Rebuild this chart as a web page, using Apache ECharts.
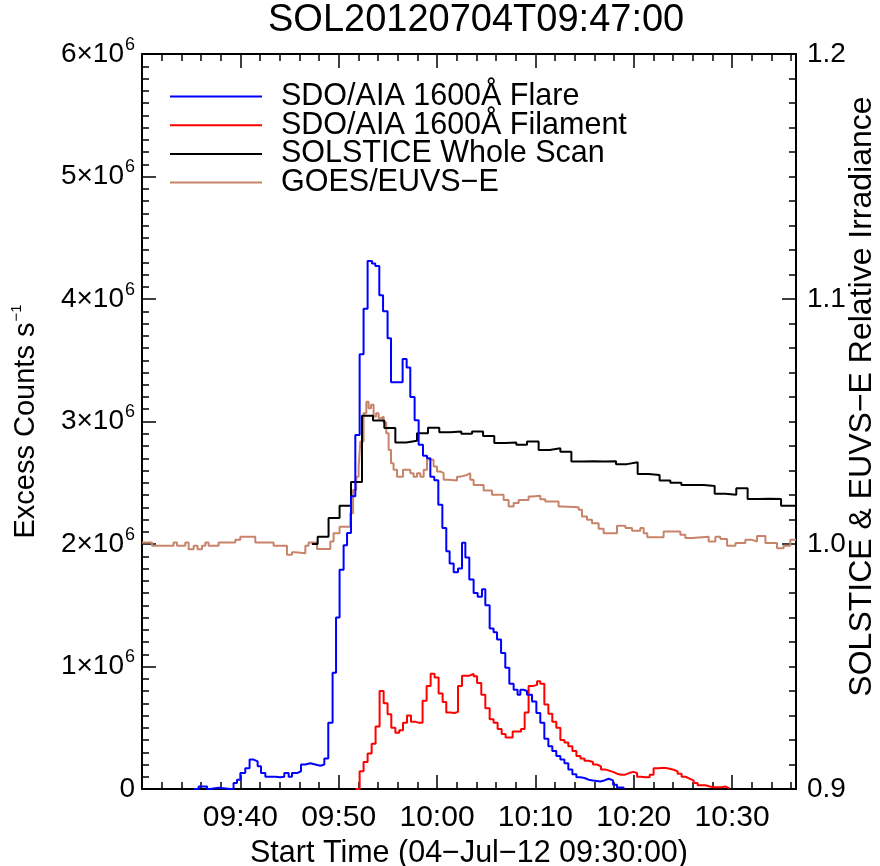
<!DOCTYPE html>
<html><head><meta charset="utf-8">
<script src="https://cdn.jsdelivr.net/npm/echarts@6/dist/echarts.min.js"></script>
<style>html,body{margin:0;padding:0;background:#fff;overflow:hidden;width:880px;height:866px}#c{width:880px;height:866px;position:absolute;left:0;top:0}</style>
</head><body><div id="c"></div>
<script>
// ---- text ----
const titleText = 'SOL20120704T09:47:00';
const xAxisName = 'Start Time (04\u2212Jul\u221212 09:30:00)';
const leftAxisName = 'Excess Counts s';
const rightAxisName = 'SOLSTICE & EUVS\u2212E Relative Irradiance';
const seriesNames = ['SDO/AIA 1600\u00c5 Flare', 'SDO/AIA 1600\u00c5 Filament', 'SOLSTICE Whole Scan', 'GOES/EUVS\u2212E'];
const startMinuteOfDay = 570; // 09:30
// ---- x range (minutes after 09:30) ----
const xMin = 0, xMax = 66.5;

// ---- SDO/AIA 1600 Flare (minutes after 09:30, units of 1e6 counts/s) ----
const flareT = [5.25,5.76,6.61,6.95,7.79,8.98,9.31,9.66,10.00,10.50,10.94,11.35,11.76,12.10,12.54,13.05,13.56,14.06,14.47,14.91,15.25,15.76,16.17,16.61,17.11,17.62,18.13,18.54,18.94,19.38,19.73,20.09,20.50,20.85,21.25,21.69,22.13,22.53,22.94,23.39,23.72,24.13,24.51,24.97,25.32,26.50,26.91,27.28,27.72,28.13,28.57,28.98,29.32,29.72,30.13,30.54,30.94,31.28,31.69,32.13,32.54,32.88,33.28,33.72,34.13,34.57,34.91,35.35,35.75,36.10,36.51,36.94,37.35,37.79,38.19,38.47,38.80,39.15,39.66,40.10,40.50,40.91,41.32,41.72,42.13,42.54,42.95,43.35,43.76,44.17,44.58,44.99,45.41,45.86,46.60,47.01,47.45,47.90,48.30,48.97];
const flareV = [0,0.02,0,0.01,0,0,0.05,0.076,0.13,0.17,0.24,0.225,0.185,0.13,0.10,0.10,0.095,0.10,0.13,0.10,0.13,0.145,0.20,0.21,0.20,0.19,0.20,0.25,0.54,0.95,1.40,1.79,1.99,2.09,2.39,2.89,3.55,3.92,4.31,4.29,4.27,4.03,3.90,3.68,3.32,3.51,3.44,3.20,3.01,2.81,2.72,2.70,2.55,2.52,2.32,2.13,1.94,1.84,1.77,1.80,2.01,1.89,1.71,1.60,1.57,1.63,1.50,1.31,1.28,1.22,1.11,0.99,0.86,0.81,0.77,0.81,0.80,0.77,0.715,0.62,0.54,0.41,0.35,0.31,0.27,0.24,0.21,0.16,0.12,0.095,0.09,0.076,0.07,0.062,0.07,0.084,0.07,0.035,0.013,0];

// ---- SDO/AIA 1600 Filament ----
const filT = [21.69,22.13,22.53,22.94,23.35,23.75,24.16,24.57,24.97,25.35,25.76,26.16,26.54,26.95,27.35,27.76,28.17,28.53,28.94,29.35,29.75,30.16,30.57,30.94,31.35,31.76,32.13,32.54,32.95,33.31,33.72,34.07,34.50,34.91,35.35,35.75,36.16,36.57,36.97,37.38,37.69,38.11,38.54,38.91,39.31,39.72,40.17,40.50,40.91,41.32,41.72,42.13,42.54,42.95,43.35,43.76,44.17,44.58,44.99,45.41,45.86,46.27,46.67,47.08,47.49,47.90,48.30,48.71,49.12,49.52,49.96,50.34,50.74,51.15,51.62,52.02,52.43,52.84,53.24,53.65,54.06,54.46,54.87,55.28,55.68,56.09,56.50,56.90,57.31,57.72,58.13,58.53,58.94,59.34,59.75];
const filV = [0,0.145,0.22,0.29,0.37,0.51,0.80,0.70,0.61,0.50,0.46,0.48,0.54,0.60,0.55,0.54,0.54,0.72,0.84,0.94,0.91,0.78,0.71,0.625,0.62,0.63,0.84,0.925,0.925,0.94,0.92,0.865,0.77,0.66,0.57,0.54,0.49,0.45,0.42,0.42,0.47,0.47,0.49,0.625,0.84,0.85,0.88,0.86,0.69,0.615,0.55,0.50,0.40,0.38,0.35,0.31,0.27,0.25,0.23,0.22,0.20,0.185,0.16,0.15,0.14,0.125,0.117,0.117,0.13,0.14,0.13,0.10,0.095,0.095,0.117,0.17,0.172,0.172,0.165,0.157,0.144,0.125,0.10,0.084,0.07,0.05,0.03,0.03,0.02,0.015,0.015,0.015,0.02,0.005,0];

// ---- SOLSTICE whole scan (relative irradiance) ----
const solT = [17.27,17.86,18.97,20.09,21.25,22.37,23.49,24.64,25.76,26.88,27.96,29.08,30.23,31.35,32.47,33.56,34.68,35.82,36.94,38.06,39.15,40.33,41.45,42.54,43.66,44.80,45.92,47.04,48.20,49.32,50.40,51.52,52.63,53.72,54.84,55.99,57.11,58.23,59.31,60.43,61.58,62.70,63.82,64.98,66.10,66.5];
const solV = [1.0000,1.0030,1.0106,1.0156,1.0253,1.0523,1.0504,1.0473,1.0414,1.0421,1.0452,1.0475,1.0456,1.0459,1.0450,1.0459,1.0441,1.0412,1.0414,1.0405,1.0418,1.0384,1.0391,1.0377,1.0337,1.0338,1.0337,1.0338,1.0326,1.0334,1.0286,1.0282,1.0259,1.0250,1.0241,1.0241,1.0237,1.0205,1.0201,1.0228,1.0184,1.0185,1.0184,1.0156,1.0156,1.0156];

// ---- GOES/EUVS-E (relative irradiance) ----
const goesT = [0,1.02,3.21,3.56,4.40,4.74,5.25,5.65,6.10,6.44,6.77,7.79,9.49,10.00,11.52,13.38,14.74,15.25,15.59,16.61,16.94,17.80,19.15,19.48,20.09,21.18,21.46,21.79,22.03,22.20,22.53,22.81,23.04,23.29,23.55,23.80,24.06,24.30,24.57,24.84,25.08,25.32,25.58,25.93,26.54,27.28,27.62,27.96,28.30,28.64,28.98,29.32,29.65,30.00,30.33,30.67,31.18,32.03,32.37,33.05,33.38,33.72,34.74,35.59,36.77,37.28,37.79,38.30,39.31,39.66,40.50,41.01,42.36,42.71,44.40,44.74,45.25,45.76,46.43,46.94,48.30,49.15,49.83,50.67,51.01,51.38,53.04,54.74,55.25,55.93,57.62,58.30,58.81,59.49,60.34,61.35,62.03,62.54,63.39,64.57,65.24,65.92,66.5];
const goesV = [1.0006,0.9993,1.0006,0.9993,1.0006,0.9979,0.9993,0.9979,0.9993,1.0006,0.9993,1.0006,1.0017,1.0030,1.0006,0.9993,0.9956,0.9966,0.9962,0.9993,1.0006,0.9980,1.0010,1.0044,1.0070,1.0126,1.0220,1.0275,1.0316,1.0418,1.0534,1.0581,1.0554,1.0568,1.0520,1.0534,1.0513,1.0520,1.0496,1.0452,1.0384,1.0330,1.0303,1.0275,1.0303,1.0289,1.0275,1.0289,1.0275,1.0303,1.0346,1.0343,1.0316,1.0296,1.0289,1.0262,1.0259,1.0275,1.0282,1.0289,1.0262,1.0241,1.0218,1.0201,1.0180,1.0153,1.0167,1.0180,1.0194,1.0197,1.0183,1.0173,1.0153,1.0150,1.0140,1.0112,1.0099,1.0085,1.0062,1.0044,1.0074,1.0065,1.0054,1.0065,1.0044,1.0028,1.0051,1.0038,1.0024,1.0030,1.0010,1.0030,1.0020,0.9993,1.0004,1.0017,1.0010,1.0033,1.0004,0.9983,0.9993,1.0017,1.0017];

// ---- tick labels ----
const leftTicks = [0, 1, 2, 3, 4, 5, 6];          // units of 10^6
const rightTicks = [0.9, 1.0, 1.1, 1.2];

const FONT = 'Liberation Sans, Arial, Helvetica, sans-serif';
const pair = (t, v) => t.map((x, i) => [x, v[i]]);
const pad2 = n => (n < 10 ? '0' : '') + n;
const timeLabel = v => {
  if (v === 0 || Math.abs(v % 10) > 1e-6) return '';
  const t = startMinuteOfDay + v;
  return pad2(Math.floor(t / 60)) + ':' + pad2(t % 60);
};

const colors = { flare: '#0000ff', fil: '#ff0000', sol: '#000000', goes: '#c8846a' };
const axisLineStyle = { color: '#000', width: 2 };

function xAx(pos, interval, len, opts) {
  return Object.assign({
    type: 'value', position: pos, min: xMin, max: xMax, interval: interval,
    axisLine: { show: true, onZero: false, lineStyle: axisLineStyle },
    axisTick: { show: true, inside: true, length: len, lineStyle: { color: '#000', width: 1.5 } },
    axisLabel: { show: false }, splitLine: { show: false }
  }, opts || {});
}

const chart = echarts.init(document.getElementById('c'), null, { renderer: 'canvas', width: 880, height: 866 });
chart.setOption({
  animation: false,
  backgroundColor: '#fff',
  textStyle: { fontFamily: FONT, color: '#000' },
  title: {
    text: titleText, left: 268, top: 2, padding: 0,
    textStyle: { fontFamily: FONT, fontSize: 38, fontWeight: 'normal', color: '#000' }
  },
  grid: { left: 142, right: 84, top: 54, bottom: 77, containLabel: false, outerBoundsMode: 'none' },
  legend: {
    data: seriesNames, orient: 'vertical', left: 170, top: 81, padding: 0,
    icon: 'rect', itemWidth: 92, itemHeight: 2, itemGap: -2.3, selectedMode: false,
    textStyle: { fontFamily: FONT, fontSize: 30.5, lineHeight: 28.7, color: '#000', padding: [0, 0, 0, 14] }
  },
  xAxis: [
    xAx('bottom', 10, 14, {
      axisLabel: { show: true, formatter: timeLabel, fontSize: 30, color: '#000', margin: 14, fontFamily: FONT },
      name: xAxisName, nameLocation: 'middle', nameGap: 46,
      nameTextStyle: { fontSize: 30.5, color: '#000', fontFamily: FONT }
    }),
    xAx('bottom', 2, 7, { axisLine: { show: false } }),
    xAx('top', 10, 14),
    xAx('top', 2, 7, { axisLine: { show: false } })
  ],
  yAxis: [
    {
      type: 'value', position: 'left', min: leftTicks[0], max: leftTicks[leftTicks.length - 1], interval: 1,
      axisLine: { show: true, onZero: false, lineStyle: axisLineStyle },
      axisTick: { show: true, inside: true, length: 14, lineStyle: { color: '#000', width: 1.5 } },
      minorTick: { show: true, splitNumber: 10, length: 7, lineStyle: { color: '#000', width: 1.5 } },
      splitLine: { show: false },
      axisLabel: {
        margin: 7, color: '#000', fontFamily: FONT,
        formatter: v => v === 0 ? '{b|0}' : '{b|' + v + '\u00d710}{s|6}',
        rich: { b: { fontSize: 28, fontFamily: FONT, color: '#000' }, s: { fontSize: 18, fontFamily: FONT, color: '#000', padding: [0, 0, 18, 1] } }
      },
      name: '{a|' + leftAxisName + '}{s|\u22121}', nameLocation: 'middle', nameRotate: 90, nameGap: 100,
      nameTextStyle: {
        rich: { a: { fontSize: 29, fontFamily: FONT, color: '#000' }, s: { fontSize: 15, fontFamily: FONT, color: '#000', padding: [0, 0, 18, 1] } }
      }
    },
    {
      type: 'value', position: 'right', min: rightTicks[0], max: rightTicks[rightTicks.length - 1], interval: 0.1,
      axisLine: { show: true, onZero: false, lineStyle: axisLineStyle },
      axisTick: { show: true, inside: true, length: 14, lineStyle: { color: '#000', width: 1.5 } },
      minorTick: { show: true, splitNumber: 10, length: 7, lineStyle: { color: '#000', width: 1.5 } },
      splitLine: { show: false },
      axisLabel: { margin: 11, color: '#000', fontSize: 28, fontFamily: FONT, formatter: v => v.toFixed(1) },
      name: rightAxisName, nameLocation: 'middle', nameRotate: 90, nameGap: 50, nameMoveOverlap: false,
      nameTextStyle: { fontSize: 32, color: '#000', fontFamily: FONT, padding: [0, 0, 0, 50] }
    }
  ],
  series: [
    { name: seriesNames[3], type: 'line', step: 'end', symbol: 'none', yAxisIndex: 1, data: pair(goesT, goesV),
      lineStyle: { color: colors.goes, width: 2 }, itemStyle: { color: colors.goes } },
    { name: seriesNames[2], type: 'line', step: 'end', symbol: 'none', yAxisIndex: 1, data: pair(solT, solV),
      lineStyle: { color: colors.sol, width: 2 }, itemStyle: { color: colors.sol } },
    { name: seriesNames[1], type: 'line', step: 'end', symbol: 'none', yAxisIndex: 0, data: pair(filT, filV),
      lineStyle: { color: colors.fil, width: 2 }, itemStyle: { color: colors.fil } },
    { name: seriesNames[0], type: 'line', step: 'end', symbol: 'none', yAxisIndex: 0, data: pair(flareT, flareV),
      lineStyle: { color: colors.flare, width: 2 }, itemStyle: { color: colors.flare } }
  ]
});
</script></body></html>
